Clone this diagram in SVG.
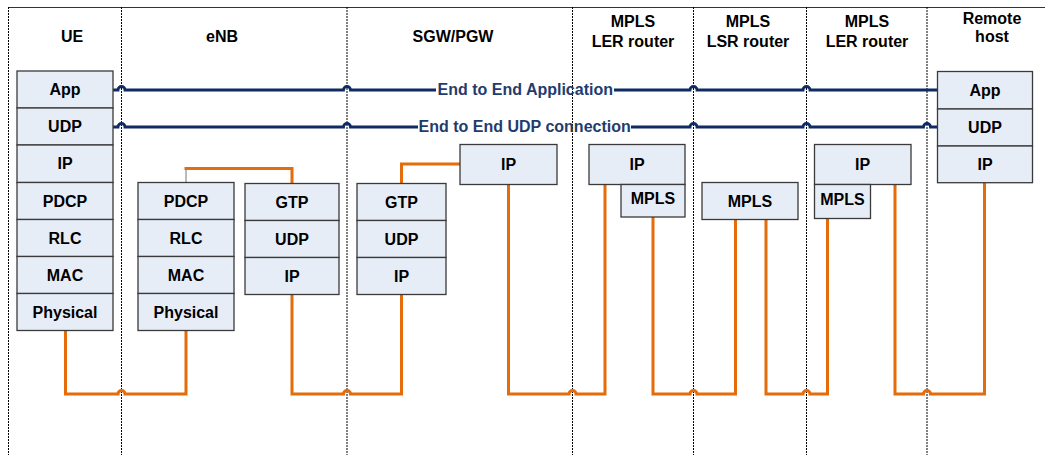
<svg xmlns="http://www.w3.org/2000/svg" width="1045" height="455" viewBox="0 0 1045 455">
<style>
text{font-family:"Liberation Sans",Arial,sans-serif;font-weight:bold;font-size:16px;text-anchor:middle;fill:#000}
.box{fill:#e7edf7;stroke:#3a3a3a;stroke-width:1.3}
.div{stroke:#000;stroke-width:1;stroke-dasharray:2 1;fill:none}
.or{fill:none;stroke:#e46c0a;stroke-width:3;stroke-linejoin:miter}
.bl{fill:none;stroke:#0e2b64;stroke-width:2.8}
.blt{fill:#1f3c6e}
</style>
<rect width="1045" height="455" fill="#fff"/>
<g id="frame">
<line x1="8" y1="7.5" x2="1045" y2="7.5" stroke="#333" stroke-width="1.2"/>
<line class="div" x1="8.5" y1="7" x2="8.5" y2="455"/>
<line class="div" x1="121.5" y1="7" x2="121.5" y2="455"/>
<line class="div" x1="347" y1="7" x2="347" y2="455" stroke="#666"/>
<line class="div" x1="572.5" y1="7" x2="572.5" y2="455"/>
<line class="div" x1="693.5" y1="7" x2="693.5" y2="455"/>
<line class="div" x1="806.5" y1="7" x2="806.5" y2="455"/>
<line class="div" x1="927" y1="7" x2="927" y2="455" stroke="#666"/>
</g>
<g id="headers">
<text x="72" y="41.7">UE</text>
<text x="222" y="41.7">eNB</text>
<text x="453" y="41.7">SGW/PGW</text>
<text x="633" y="27.3">MPLS</text><text x="633" y="46.7">LER router</text>
<text x="748" y="27.3">MPLS</text><text x="748" y="46.7">LSR router</text>
<text x="867" y="27.3">MPLS</text><text x="867" y="46.7">LER router</text>
<text x="992" y="24">Remote</text><text x="992" y="41.7">host</text>
</g>
<g id="connectors">
<path class="bl" d="M113 90 H118 a3.5 3.5 0 0 1 7 0 H343.5 a3.5 3.5 0 0 1 7 0 H436"/>
<path class="bl" d="M614 90 H690 a3.5 3.5 0 0 1 7 0 H803 a3.5 3.5 0 0 1 7 0 H937.5"/>
<path class="bl" d="M113 127 H118 a3.5 3.5 0 0 1 7 0 H343.5 a3.5 3.5 0 0 1 7 0 H418"/>
<path class="bl" d="M631 127 H690 a3.5 3.5 0 0 1 7 0 H803 a3.5 3.5 0 0 1 7 0 H923.5 a3.5 3.5 0 0 1 7 0 H937.5"/>
<text class="blt" x="525.3" y="95.3">End to End Application</text>
<text class="blt" x="524.7" y="132.3">End to End UDP connection</text>
<line x1="186" y1="168.5" x2="186" y2="182.5" stroke="#777" stroke-width="1"/>
<path class="or" d="M184.5 168.5 H292 V183.5"/>
<path class="or" d="M401.5 183.5 V164 H460"/>
<path class="or" d="M65.5 330 V394 H118 a3.5 3.5 0 0 1 7 0 H186 V330.5"/>
<path class="or" d="M292 294.5 V394 H343.5 a3.5 3.5 0 0 1 7 0 H401.5 V294.5"/>
<path class="or" d="M508.5 184.5 V394 H569 a3.5 3.5 0 0 1 7 0 H605 V184.5"/>
<path class="or" d="M653 217 V394 H690 a3.5 3.5 0 0 1 7 0 H735.5 V219.5"/>
<path class="or" d="M766 219.5 V394 H803 a3.5 3.5 0 0 1 7 0 H827.5 V218.5"/>
<path class="or" d="M895 184.5 V394 H923.5 a3.5 3.5 0 0 1 7 0 H984.5 V182.7"/>
</g>
<g id="ue">
<rect class="box" x="17" y="71" width="96" height="37"/><text x="65" y="95">App</text>
<rect class="box" x="17" y="108" width="96" height="37"/><text x="65" y="132">UDP</text>
<rect class="box" x="17" y="145" width="96" height="37.5"/><text x="65" y="169.3">IP</text>
<rect class="box" x="17" y="182.5" width="96" height="37"/><text x="65" y="206.5">PDCP</text>
<rect class="box" x="17" y="219.5" width="96" height="37"/><text x="65" y="243.5">RLC</text>
<rect class="box" x="17" y="256.5" width="96" height="37"/><text x="65" y="280.5">MAC</text>
<rect class="box" x="17" y="293.5" width="96" height="37"/><text x="65" y="317.5">Physical</text>
</g>
<g id="enb-radio">
<rect class="box" x="138" y="182.5" width="96" height="37"/><text x="186" y="206.5">PDCP</text>
<rect class="box" x="138" y="219.5" width="96" height="37"/><text x="186" y="243.5">RLC</text>
<rect class="box" x="138" y="256.5" width="96" height="37"/><text x="186" y="280.5">MAC</text>
<rect class="box" x="138" y="293.5" width="96" height="37"/><text x="186" y="317.5">Physical</text>
</g>
<g id="enb-gtp">
<rect class="box" x="245" y="183.5" width="94" height="37"/><text x="292" y="207.5">GTP</text>
<rect class="box" x="245" y="220.5" width="94" height="37"/><text x="292" y="244.5">UDP</text>
<rect class="box" x="245" y="257.5" width="94" height="37"/><text x="292" y="281.5">IP</text>
</g>
<g id="sgw-gtp">
<rect class="box" x="357" y="183.5" width="89" height="37"/><text x="401.5" y="207.5">GTP</text>
<rect class="box" x="357" y="220.5" width="89" height="37"/><text x="401.5" y="244.5">UDP</text>
<rect class="box" x="357" y="257.5" width="89" height="37"/><text x="401.5" y="281.5">IP</text>
</g>
<g id="sgw-ip">
<rect class="box" x="460" y="144.5" width="97" height="40"/><text x="508.5" y="170">IP</text>
</g>
<g id="ler1">
<rect class="box" x="589" y="144.5" width="96" height="40"/><text x="637" y="170">IP</text>
<rect class="box" x="621" y="184.5" width="64" height="32.5"/><text x="653" y="204">MPLS</text>
</g>
<g id="lsr">
<rect class="box" x="702" y="182.5" width="96" height="37"/><text x="750" y="206.5">MPLS</text>
</g>
<g id="ler2">
<rect class="box" x="814.5" y="144.5" width="96.5" height="40"/><text x="862.5" y="170">IP</text>
<rect class="box" x="814.5" y="184.5" width="56" height="34"/><text x="842.5" y="205">MPLS</text>
</g>
<g id="remote">
<rect class="box" x="937.5" y="71.5" width="95" height="37.5"/><text x="985" y="95.5">App</text>
<rect class="box" x="937.5" y="109" width="95" height="37"/><text x="985" y="133">UDP</text>
<rect class="box" x="937.5" y="146" width="95" height="36.7"/><text x="985" y="169.8">IP</text>
</g>
</svg>
